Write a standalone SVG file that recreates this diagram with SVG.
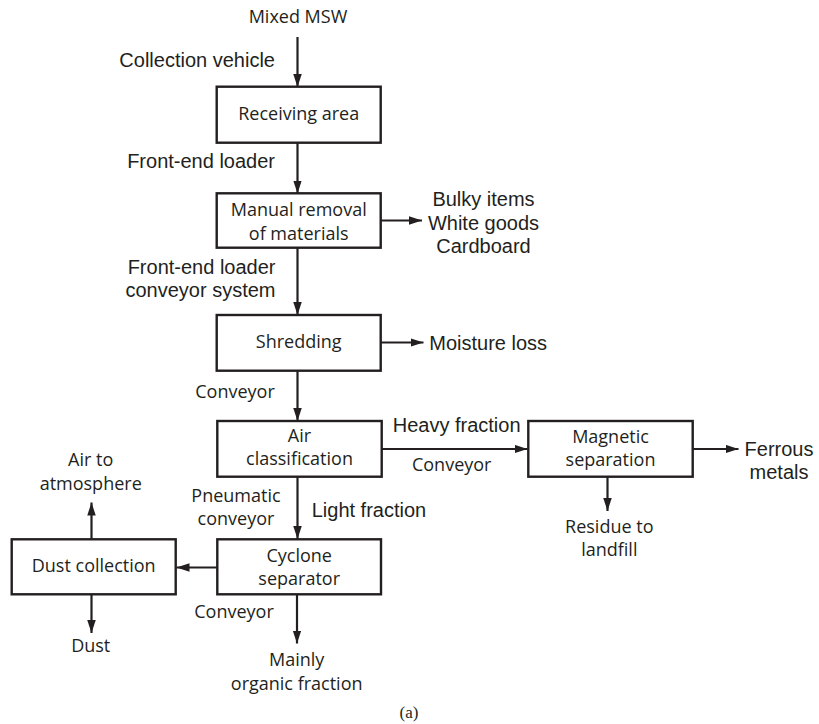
<svg xmlns="http://www.w3.org/2000/svg" width="819" height="724" viewBox="0 0 819 724">
  <defs>
    <marker id="arrow" markerUnits="userSpaceOnUse" markerWidth="14" markerHeight="9" refX="13" refY="4.25" orient="auto">
      <path d="M0,0 L13,4.25 L0,8.5 z" fill="#231f20"/>
    </marker>
    <style>
      .box { fill: #fff; stroke: #231f20; stroke-width: 2.4; }
      .flow { fill: none; stroke: #231f20; stroke-width: 2.2; marker-end: url(#arrow); }
      .t { font-family: "Open Sans", "Noto Sans", sans-serif; font-size: 18px; fill: #231f20; text-anchor: middle; }
      .h { font-family: "Liberation Sans", Arial, sans-serif; font-size: 20px; fill: #231f20; }
      .c { text-anchor: middle; }
      .e { text-anchor: end; }
      .cap { font-family: "Liberation Serif", "Times New Roman", serif; font-size: 17px; fill: #231f20; text-anchor: middle; }
    </style>
  </defs>

  <rect width="819" height="724" fill="#fff"/>

  <!-- connectors -->
  <g id="connectors">
    <line class="flow" x1="297.5" y1="37" x2="297.5" y2="87"/>
    <line class="flow" x1="297.5" y1="143" x2="297.5" y2="193.5"/>
    <line class="flow" x1="381" y1="220.5" x2="422" y2="220.5"/>
    <line class="flow" x1="297.5" y1="248" x2="297.5" y2="315"/>
    <line class="flow" x1="381" y1="342.5" x2="423.5" y2="342.5"/>
    <line class="flow" x1="297.5" y1="371" x2="297.5" y2="421"/>
    <line class="flow" x1="381.5" y1="449" x2="527.5" y2="449"/>
    <line class="flow" x1="692.5" y1="449" x2="738.5" y2="449"/>
    <line class="flow" x1="607.5" y1="477" x2="607.5" y2="511"/>
    <line class="flow" x1="297.5" y1="477" x2="297.5" y2="539"/>
    <line class="flow" x1="217.5" y1="567.5" x2="176.5" y2="567.5"/>
    <line class="flow" x1="91.5" y1="539" x2="91.5" y2="502.5"/>
    <line class="flow" x1="91.5" y1="594.5" x2="91.5" y2="633"/>
    <line class="flow" x1="297" y1="594.5" x2="297" y2="643.5"/>
  </g>

  <!-- process boxes -->
  <g id="receiving-area">
    <rect class="box" x="216.7" y="86.7" width="164" height="56"/>
    <text class="t" x="298.7" y="120">Receiving area</text>
  </g>
  <g id="manual-removal">
    <rect class="box" x="216.7" y="193.3" width="164" height="54.4"/>
    <text class="t" x="298.7" y="216">Manual removal</text>
    <text class="t" x="298.7" y="240">of materials</text>
  </g>
  <g id="shredding">
    <rect class="box" x="216.7" y="315" width="164" height="55.7"/>
    <text class="t" x="298.7" y="348.3">Shredding</text>
  </g>
  <g id="air-classification">
    <rect class="box" x="217.3" y="421" width="164.4" height="55.7"/>
    <text class="t" x="299.5" y="441.7">Air</text>
    <text class="t" x="299.5" y="465">classification</text>
  </g>
  <g id="magnetic-separation">
    <rect class="box" x="528.3" y="421" width="164.4" height="55.7"/>
    <text class="t" x="610.5" y="442.7">Magnetic</text>
    <text class="t" x="610.5" y="466">separation</text>
  </g>
  <g id="cyclone-separator">
    <rect class="box" x="217.3" y="539.3" width="163.7" height="55"/>
    <text class="t" x="299.2" y="561.7">Cyclone</text>
    <text class="t" x="299.2" y="585">separator</text>
  </g>
  <g id="dust-collection">
    <rect class="box" x="11.7" y="539.3" width="164" height="55"/>
    <text class="t" x="93.7" y="571.7">Dust collection</text>
  </g>

  <!-- inputs and outputs -->
  <g id="labels">
    <text class="t" x="298" y="22.7">Mixed MSW</text>
    <text class="h e" x="275" y="66.7">Collection vehicle</text>
    <text class="h e" x="275" y="168.3">Front-end loader</text>
    <text class="h c" x="483.5" y="206">Bulky items</text>
    <text class="h c" x="483.5" y="230">White goods</text>
    <text class="h c" x="483.5" y="252.7">Cardboard</text>
    <text class="h e" x="275.5" y="274">Front-end loader</text>
    <text class="h e" x="275.5" y="297.3">conveyor system</text>
    <text class="h" x="429.3" y="350">Moisture loss</text>
    <text class="t" x="235" y="398.3">Conveyor</text>
    <text class="h" x="392.7" y="431.7">Heavy fraction</text>
    <text class="t" x="451.7" y="470.7">Conveyor</text>
    <text class="h c" x="779" y="456">Ferrous</text>
    <text class="h c" x="779" y="479.3">metals</text>
    <text class="t" x="609.3" y="532.7">Residue to</text>
    <text class="t" x="609.3" y="556">landfill</text>
    <text class="t" x="90.7" y="466">Air to</text>
    <text class="t" x="90.7" y="490">atmosphere</text>
    <text class="t" x="236" y="501.7">Pneumatic</text>
    <text class="t" x="236" y="525">conveyor</text>
    <text class="h" x="311.7" y="516.7">Light fraction</text>
    <text class="t" x="234" y="618.3">Conveyor</text>
    <text class="t" x="90.7" y="651.7">Dust</text>
    <text class="t" x="296.7" y="666">Mainly</text>
    <text class="t" x="296.7" y="690">organic fraction</text>
    <text class="cap" x="409" y="718">(a)</text>
  </g>
</svg>
